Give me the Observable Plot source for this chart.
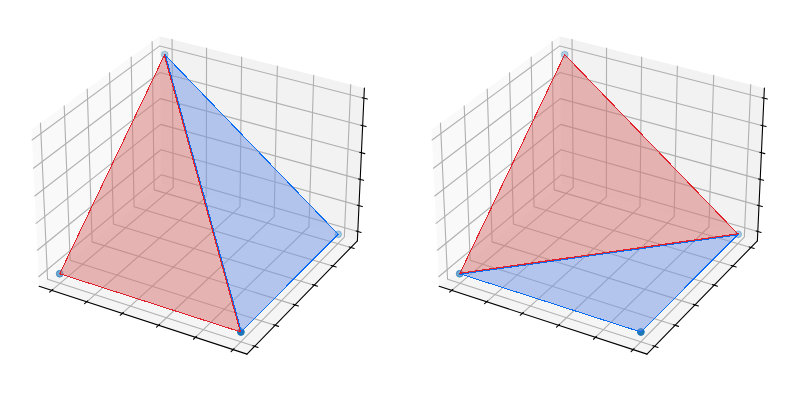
<!DOCTYPE html>
<html>
<head>
<meta charset="utf-8">
<script src="https://cdn.jsdelivr.net/npm/d3@7"></script>
<script src="https://cdn.jsdelivr.net/npm/@observablehq/plot@0.6"></script>
<style>
html,body{margin:0;padding:0;background:#fff}
#chart{display:flex;width:800px;height:400px}
svg{display:block}
</style>
</head>
<body>
<div id="chart"></div>
<script>
// Data: four 3D vertices and the two triangles of each panel
const vx = [0, 1, 1, 0];
const vy = [0, 0, 1, 1];
const vz = [0, 0, 0, 1];
const pointAlpha = [0.62, 1, 0.35, 0.3];
const leftBlue = [1, 2, 3];
const leftRed = [0, 1, 3];
const leftShared = [1, 3];
const rightBlue = [0, 1, 2];
const rightRed = [0, 2, 3];
const rightShared = [0, 2];
const ticks = [0, 0.2, 0.4, 0.6, 0.8, 1];

// View of the 3D axes
const limits = [-0.05, 1.05];
const paneLow = -0.0729, paneHigh = 1.0729;
const tickDelta = 1.1 / 12;
const boxAspect = [8 / 7, 8 / 7, 6 / 7];
const dist = 10;
const elev = 30 * Math.PI / 180, azim = -60 * Math.PI / 180;
const W = [Math.cos(elev) * Math.cos(azim), Math.cos(elev) * Math.sin(azim), Math.sin(elev)];
const U = [-Math.sin(azim), Math.cos(azim), 0];
const V = [W[1] * U[2] - W[2] * U[1], W[2] * U[0] - W[0] * U[2], W[0] * U[1] - W[1] * U[0]];
const dot3 = (a, b) => a[0] * b[0] + a[1] * b[1] + a[2] * b[2];
function project(x, y, z) {
  const d = [x, y, z].map((v, i) => ((v - limits[0]) / (limits[1] - limits[0]) - 0.5) * boxAspect[i]);
  const w = dist - dot3(d, W);
  return {px: dot3(d, U) / w, py: dot3(d, V) / w};
}
const path = (id, pts) => pts.map(p => ({id, ...project(...p)}));
const lo = paneLow, hi = paneHigh;

const paneLeft = path("l", [[lo, lo, lo], [lo, hi, lo], [lo, hi, hi], [lo, lo, hi]]);
const paneBack = path("b", [[lo, hi, lo], [hi, hi, lo], [hi, hi, hi], [lo, hi, hi]]);
const paneFloor = path("f", [[lo, lo, lo], [hi, lo, lo], [hi, hi, lo], [lo, hi, lo]]);

const grid = ticks.flatMap(t => [
  ...path("x" + t, [[t, lo, lo], [t, hi, lo], [t, hi, hi]]),
  ...path("y" + t, [[hi, t, lo], [lo, t, lo], [lo, t, hi]]),
  ...path("z" + t, [[lo, lo, t], [lo, hi, t], [hi, hi, t]])
]);
const axes3d = [
  ...path("ax", [[lo, lo, lo], [hi, lo, lo]]),
  ...path("ay", [[hi, lo, lo], [hi, hi, lo]]),
  ...path("az", [[hi, hi, lo], [hi, hi, hi]])
];
const outer = 0.2 * tickDelta, inner = 0.1 * tickDelta;
const tickLines = ticks.flatMap(t => [
  ...path("tx" + t, [[t, lo - outer, lo], [t, lo + inner, lo]]),
  ...path("ty" + t, [[hi + outer, t, lo], [hi - inner, t, lo]]),
  ...path("tz" + t, [[hi + outer, hi, t], [hi - inner, hi, t]])
]);
const vertices = idx => idx.map(i => project(vx[i], vy[i], vz[i]));
const points = vx.map((x, i) => ({...project(x, vy[i], vz[i]), a: pointAlpha[i]}));

const scaleK = 2000, cx = 200.7, cy = 187;
const blueEdge = "#0a6cf0", redEdge = "#e0202a";

function panel(blue, red, shared, offset) {
  const tri = (idx, fill, stroke) => Plot.line(vertices(idx), {
    x: "px", y: "py", fill, fillOpacity: 0.5, stroke, strokeWidth: 1,
    curve: "linear-closed", shapeRendering: "crispEdges"
  });
  const edge = (stroke, sign) => Plot.line(vertices(shared), {
    x: "px", y: "py", stroke, strokeWidth: 1, shapeRendering: "crispEdges",
    dx: sign * offset[0], dy: sign * offset[1]
  });
  const pane = (data, fill) => Plot.line(data, {x: "px", y: "py", fill, stroke: "none", curve: "linear-closed"});
  return Plot.plot({
    width: 400, height: 400,
    marginTop: 0, marginRight: 0, marginBottom: 0, marginLeft: 0,
    x: {domain: [-cx / scaleK, (400 - cx) / scaleK], axis: null},
    y: {domain: [(cy - 400) / scaleK, cy / scaleK], axis: null},
    opacity: {type: "identity"},
    marks: [
      pane(paneLeft, "#f9f9f9"),
      pane(paneBack, "#f2f2f2"),
      pane(paneFloor, "#f5f5f5"),
      Plot.line(grid, {x: "px", y: "py", z: "id", stroke: "#b0b0b0", strokeWidth: 1.1}),
      Plot.line(axes3d, {x: "px", y: "py", z: "id", stroke: "#000", strokeWidth: 1.1}),
      Plot.line(tickLines, {x: "px", y: "py", z: "id", stroke: "#000", strokeWidth: 1.1}),
      Plot.dot(points, {x: "px", y: "py", r: 3.4, fill: "#1f77b4", fillOpacity: "a", strokeOpacity: "a", stroke: "#1f77b4", strokeWidth: 1}),
      tri(blue, "#7193e5", blueEdge),
      tri(red, "#d87171", redEdge),
      edge(blueEdge, 1),
      edge(redEdge, -1)
    ]
  });
}
const chart = document.getElementById("chart");
chart.append(panel(leftBlue, leftRed, leftShared, [0.6, 0]), panel(rightBlue, rightRed, rightShared, [0, 0.6]));
</script>
</body>
</html>
